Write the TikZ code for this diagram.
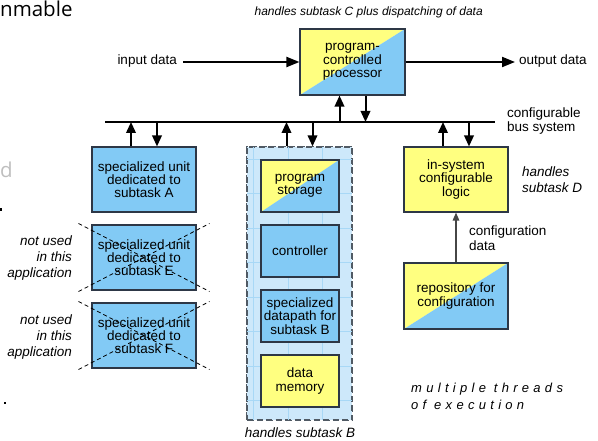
\documentclass[tikz,border=0pt]{standalone}
\usepackage{fontspec}
\setmainfont{Liberation Sans}
\newfontfamily\slidefont{Open Sans}
\usetikzlibrary{arrows.meta,calc}

\definecolor{boxyellow}{RGB}{255,255,128}
\definecolor{boxblue}{RGB}{130,202,245}
\definecolor{boxline}{RGB}{45,55,70}
\definecolor{poolfill}{RGB}{205,232,250}
\definecolor{poolgrid}{RGB}{168,216,246}
\definecolor{pooledge}{RGB}{80,90,100}
\definecolor{cfgline}{RGB}{70,70,70}
\definecolor{fadedtext}{RGB}{190,190,190}

\tikzset{
  unit/.style={draw=boxline, line width=1.1pt, fill=boxblue,
    minimum width=104, minimum height=65, inner sep=0, align=center,
    font=\fontsize{13.5}{13.3}\selectfont},
  inner/.style={unit, minimum width=78, minimum height=52},
  split/.style={fill=none, path picture={
    \fill[boxyellow] (path picture bounding box.south west) -- (path picture bounding box.north west)
      -- (path picture bounding box.north east) -- cycle;
    \fill[boxblue] (path picture bounding box.south west) -- (path picture bounding box.north east)
      -- (path picture bounding box.south east) -- cycle;}},
  yel/.style={fill=boxyellow},
  pool/.style={draw=pooledge, line width=1.3pt, dash pattern=on 6pt off 3.5pt,
    fill=poolfill, minimum width=105, minimum height=273, inner sep=0},
  lab/.style={inner sep=0, font=\fontsize{13.5}{13.3}\selectfont},
  note/.style={inner sep=0, font=\fontsize{13.5}{16}\selectfont\itshape},
  slide/.style={inner sep=0, anchor=base west, font=\slidefont\fontsize{20.5}{24}\selectfont},
  busarr/.style={line width=2pt, -{Triangle[length=11pt,width=9.5pt]}},
  dataarr/.style={line width=2pt, -{Triangle[length=13pt,width=10pt]}},
  cfgarr/.style={line width=1.3pt, draw=cfgline, -{Triangle[length=8pt,width=6.5pt]}},
  xline/.style={line width=0.8pt, dash pattern=on 4pt off 3pt},
}

\begin{document}
\begin{tikzpicture}[x=1pt, y=-1pt]
\useasboundingbox (0,0) rectangle (598,441);

% slide text fragments along the left edge
\node[slide] (slideA) at (0,17) {nmable};
\node[slide, text=fadedtext] (slideB) at (0,178) {d};
\fill (0,208.5) rectangle (2.2,211.2);
\fill (3.5,401.5) rectangle (6.2,404.2);

% processor and external data
\node[unit, split, minimum width=105, minimum height=66] (proc) at (352.5,62) {program-\\controlled\\processor};
\node[note, font=\fontsize{12}{14}\selectfont\itshape, anchor=base east] (procnote) at (483,16) {handles subtask C plus dispatching of data};
\node[lab, anchor=mid east] (inL) at (177,62) {input data};
\node[lab, anchor=mid west] (outL) at (519,62) {output data};
\draw[dataarr] ([xshift=6]inL.mid east) -- (proc.west);
\draw[dataarr] (proc.east) -- ([xshift=-4]outL.mid west);

% bus
\coordinate (busL) at (105,122);
\coordinate (busR) at (495,122);
\draw[line width=2.5pt] (busL) -- (busR);
\node[lab, anchor=west, align=left] (busnote) at (507,121) {configurable\\bus system};

% processor to bus
\draw[busarr] ([xshift=-13]proc.south |- busL) -- ([xshift=-13]proc.south);
\draw[busarr] ([xshift=13]proc.south) -- ([xshift=13]proc.south |- busL);

% specialized units
\node[unit] (uA) at (144,179.5) {specialized unit\\dedicated to\\subtask A};
\node[unit] (uE) at (144,257.5) {specialized unit\\dedicated to\\subtask E};
\node[unit] (uF) at (144,335.5) {specialized unit\\dedicated to\\subtask F};
\draw[busarr] ([xshift=-13]uA.north) -- ([xshift=-13]uA.north |- busL);
\draw[busarr] ([xshift=13]uA.north |- busL) -- ([xshift=13]uA.north);

\foreach \u in {uE,uF}{
  \draw[xline] ([shift={(-13,-1)}]\u.north west) -- ([shift={(13,1)}]\u.south east);
  \draw[xline] ([shift={(-13,1)}]\u.south west) -- ([shift={(13,-1)}]\u.north east);
}
\node[note, anchor=east, align=right] (nE) at (72,258) {not used\\in this\\application};
\node[note, anchor=east, align=right] (nF) at (72,337) {not used\\in this\\application};

% subtask B pool
\node[pool] (poolB) at (299.5,283.5) {};
\begin{scope}
  \clip (poolB.north west) rectangle (poolB.south east);
  \foreach \gx in {253.5,288,322.5}
    \draw[poolgrid, line width=0.8pt] (\gx,147) -- (\gx,420);
  \foreach \gy in {159,193.5,228,262.5,297,331.5,366,400.5}
    \draw[poolgrid, line width=0.8pt] (247,\gy) -- (352,\gy);
\end{scope}
\draw[draw=pooledge, line width=1.3pt, dash pattern=on 6pt off 3.5pt] (poolB.north west) rectangle (poolB.south east);
\draw[busarr] ([xshift=-13]poolB.north) -- ([xshift=-13]poolB.north |- busL);
\draw[busarr] ([xshift=13]poolB.north |- busL) -- ([xshift=13]poolB.north);

\node[inner, split] (pstore) at (300,186) {program\\storage};
\node[inner] (ctrl) at (300,251) {controller};
\node[inner] (dpath) at (300,316) {specialized\\datapath for\\subtask B};
\node[inner, yel] (dmem) at (300,381) {data\\memory};
\node[note, anchor=mid] (nB) at (300,435) {handles subtask B};

% configurable logic
\node[unit, yel] (iscl) at (456,179.5) {in-system\\configurable\\logic};
\draw[busarr] ([xshift=-13]iscl.north) -- ([xshift=-13]iscl.north |- busL);
\draw[busarr] ([xshift=13]iscl.north |- busL) -- ([xshift=13]iscl.north);
\node[note, anchor=west, align=left] (nD) at (522,180) {handles\\subtask D};

\node[unit, split, minimum height=66] (repo) at (456,296) {repository for\\configuration};
\draw[cfgarr] (repo.north) -- (iscl.south);
\node[lab, font=\fontsize{13.5}{15}\selectfont, anchor=west, align=left] (cfgnote) at (469,238.5) {configuration\\data};

\node[note, font=\fontsize{13}{17}\selectfont\itshape\addfontfeature{LetterSpace=33}, anchor=west, align=left] (threads) at (411,396.5) {multiple threads\\of execution};
\end{tikzpicture}
\end{document}
